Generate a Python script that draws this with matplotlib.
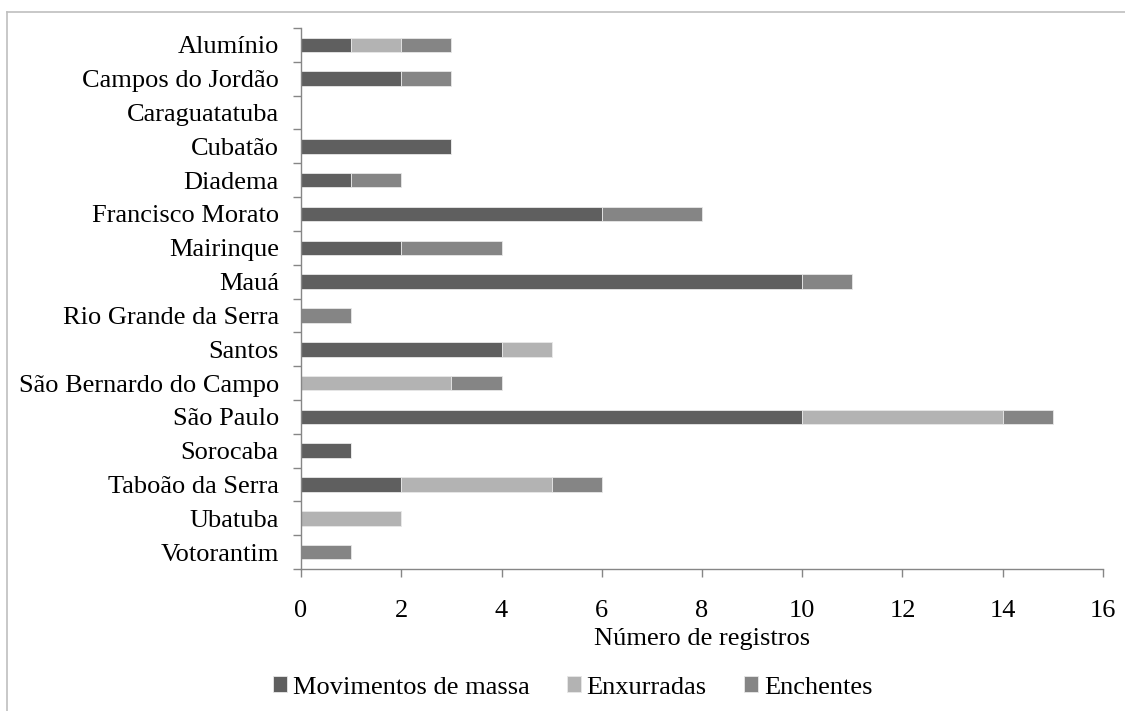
import matplotlib
matplotlib.use("Agg")
import matplotlib.pyplot as plt
from matplotlib.lines import Line2D
import numpy as np

plt.rcParams['font.family'] = ['Liberation Serif', 'DejaVu Serif']

cities = ["Alumínio", "Campos do Jordão", "Caraguatatuba", "Cubatão", "Diadema",
          "Francisco Morato", "Mairinque", "Mauá", "Rio Grande da Serra", "Santos",
          "São Bernardo do Campo", "São Paulo", "Sorocaba", "Taboão da Serra",
          "Ubatuba", "Votorantim"]
movimentos = [1, 2, 0, 3, 1, 6, 2, 10, 0, 4, 0, 10, 1, 2, 0, 0]
enxurradas = [1, 0, 0, 0, 0, 0, 0, 0, 0, 1, 3, 4, 0, 3, 2, 0]
enchentes = [1, 1, 0, 0, 1, 2, 2, 1, 1, 0, 1, 1, 0, 1, 0, 1]
series_names = ["Movimentos de massa", "Enxurradas", "Enchentes"]
colors = ["#5f5f5f", "#b3b3b3", "#858585"]
xticks = [0, 2, 4, 6, 8, 10, 12, 14, 16]

FS = 19

fig = plt.figure(figsize=(11.25, 7.11), dpi=100)
ax = fig.add_axes([0.2676, 0.1997, 0.7128, 0.7609])

y = np.arange(len(cities))
left = np.zeros(len(cities))
for vals, name, c in zip([movimentos, enxurradas, enchentes], series_names, colors):
    ax.barh(y, vals, left=left, height=0.43, color=c, edgecolor="#e8e8e8",
            linewidth=0.6, label=name)
    left = left + np.array(vals)

ax.set_ylim(len(cities) - 0.5, -0.5)
ax.set_xlim(0, 16)
ax.set_yticks(y)
ax.set_yticklabels(cities, fontsize=FS)
ax.set_yticks(np.arange(-0.5, len(cities), 1), minor=True)
ax.tick_params(axis='y', which='major', length=0, pad=16)
ax.tick_params(axis='y', which='minor', length=6, color="#868686", width=1)
ax.set_xticks(xticks)
ax.set_xticklabels([str(t) for t in xticks], fontsize=FS)
ax.tick_params(axis='x', which='major', length=6, color="#868686", width=1, pad=16.5)
for s in ['top', 'right']:
    ax.spines[s].set_visible(False)
for s in ['left', 'bottom']:
    ax.spines[s].set_color("#868686")
    ax.spines[s].set_linewidth(1)
ax.set_xlabel("Número de registros", fontsize=FS, labelpad=4)

handles, labels = ax.get_legend_handles_labels()
fig.legend(handles, labels, loc='center', bbox_to_anchor=(0.509, 0.033), ncol=3,
           frameon=False, fontsize=FS, handlelength=0.53, handleheight=0.53,
           handletextpad=0.23, columnspacing=1.4, borderaxespad=0, borderpad=0)

# outer frame (left and top)
fig.add_artist(Line2D([7/1125, 7/1125], [0, 1 - 12/711], transform=fig.transFigure,
                      color="#bfbfbf", linewidth=1.2))
fig.add_artist(Line2D([7/1125, 1], [1 - 12/711, 1 - 12/711], transform=fig.transFigure,
                      color="#bfbfbf", linewidth=1.2))

fig.savefig("out.png", dpi=100)
